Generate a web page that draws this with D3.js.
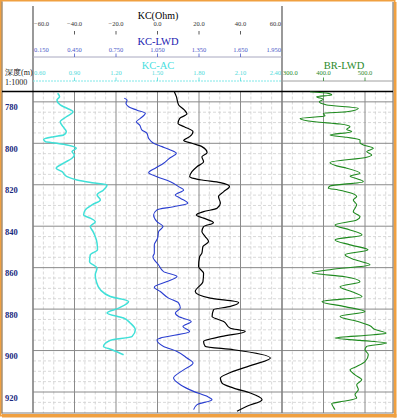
<!DOCTYPE html>
<html>
<head>
<meta charset="utf-8">
<script src="https://cdn.jsdelivr.net/npm/d3@7"></script>
<style>
  html, body { margin: 0; padding: 0; background: #fff; }
  svg { display: block; }
  text { font-family: "Liberation Serif", "DejaVu Serif", serif; }
</style>
</head>
<body>
<svg id="chart" width="399" height="420"></svg>
<script>
// scale labels of the header rows
var kcTicks = [-60, -40, -20, 0, 20, 40, 60];
var lwdTicks = [0.150, 0.450, 0.750, 1.050, 1.350, 1.650, 1.950];
var acTicks = [0.60, 0.90, 1.20, 1.50, 1.80, 2.10, 2.40];
var brTicks = [300, 400, 500];
var depthTicks = [780, 800, 820, 840, 860, 880, 900, 920];

// KC (black)
var kcDepth = [775.1, 777.5, 781.5, 783.9, 785.8, 788.0, 790.4, 792.0, 794.4, 796.8, 798.7, 800.0,
    801.6, 804.5, 806.5, 808.9, 811.3, 813.7, 816.1, 816.9, 817.7, 819.0, 820.9, 823.3, 825.7,
    828.9, 831.3, 833.0, 834.6, 836.1, 838.3, 840.2, 842.6, 845.0, 847.4, 849.8, 853.0, 854.7,
    859.5, 862.7, 866.7, 871.5, 874.7, 876.8, 878.7, 880.3, 883.6, 886.0, 889.2, 890.8, 893.2,
    895.6, 898.0, 899.6, 903.6, 906.8, 910.6, 913.3, 915.7, 918.1, 920.5, 923.7, 926.9, 929.3];
var kcValue = [8.1, 9.1, 10.2, 12.9, 14.2, 10.7, 9.9, 12.9, 17.1, 15.5, 12.6, 16.6,
    21.4, 23.9, 21.4, 22.2, 19.0, 16.6, 15.5, 17.4, 21.4, 30.3, 34.7, 31.9, 29.4,
    30.3, 28.7, 22.2, 18.7, 22.2, 27.0, 22.2, 21.4, 23.0, 24.6, 21.9, 21.4, 20.3,
    19.8, 22.2, 21.9, 18.2, 25.4, 39.1, 35.1, 27.0, 26.3, 31.9, 35.1, 42.3, 31.1,
    22.2, 23.0, 36.7, 54.4, 46.3, 35.1, 30.3, 31.1, 36.7, 44.7, 50.4, 43.1, 38.3];

// KC-LWD (blue)
var lwdDepth = [778.3, 779.1, 780.7, 782.4, 784.0, 785.5, 788.0, 789.6, 791.2, 793.6, 795.2, 797.6,
    800.0, 801.6, 803.2, 804.8, 807.2, 809.6, 812.0, 814.2, 816.1, 818.5, 820.9, 822.5, 824.9,
    826.5, 828.9, 830.6, 832.1, 834.6, 837.8, 840.2, 842.6, 845.8, 849.0, 853.0, 854.7, 858.7,
    861.9, 864.3, 866.7, 869.4, 871.5, 874.7, 877.1, 879.5, 881.9, 883.6, 886.0, 888.4, 890.8,
    894.0, 894.8, 898.0, 900.4, 903.6, 906.0, 909.3, 913.3, 916.5, 919.7, 922.1, 923.7, 926.1, 928.5];
var lwdValue = [0.810, 0.830, 0.822, 0.841, 0.902, 0.962, 0.926, 0.897, 0.921, 0.938, 0.974, 0.986,
    1.022, 1.083, 1.143, 1.186, 1.137, 1.094, 1.034, 0.986, 1.046, 1.143, 1.203, 1.239, 1.179,
    1.215, 1.268, 1.166, 1.046, 1.022, 1.046, 1.090, 1.058, 1.051, 1.027, 1.027, 1.017, 1.058,
    1.094, 1.191, 1.119, 1.027, 1.070, 1.130, 1.203, 1.215, 1.179, 1.203, 1.294, 1.234, 1.282,
    1.070, 1.046, 1.094, 1.191, 1.263, 1.307, 1.239, 1.166, 1.215, 1.311, 1.408, 1.444, 1.336, 1.311];

// KC-AC (cyan)
var acDepth = [775.9, 777.5, 779.1, 781.5, 783.1, 784.8, 787.2, 789.6, 792.0, 794.4, 796.0, 796.8,
    798.1, 799.2, 800.0, 800.8, 802.4, 804.0, 805.6, 807.2, 809.6, 812.0, 813.7, 816.1, 817.7,
    819.0, 820.1, 822.5, 824.9, 827.3, 829.7, 832.1, 834.6, 836.1, 837.8, 840.2, 842.6, 845.0,
    848.2, 851.4, 853.8, 857.1, 860.2, 863.5, 866.7, 870.7, 873.9, 876.3, 879.5, 881.9, 884.3,
    886.7, 890.0, 893.2, 895.1, 898.0, 899.6, 902.0];
var acValue = [0.778, 0.792, 0.773, 0.797, 0.846, 0.889, 0.841, 0.797, 0.817, 0.841, 0.821, 0.749,
    0.677, 0.689, 0.773, 0.846, 0.913, 0.882, 0.899, 0.882, 0.821, 0.768, 0.810, 0.846, 0.918,
    1.027, 1.135, 1.110, 1.063, 1.087, 1.027, 0.978, 0.966, 1.014, 1.050, 1.014, 1.034, 1.050,
    1.063, 1.066, 1.014, 1.009, 1.063, 1.050, 1.058, 1.087, 1.159, 1.291, 1.219, 1.135, 1.255,
    1.303, 1.340, 1.316, 1.159, 1.110, 1.171, 1.255];

// BR-LWD (green)
var brDepth = [775.1, 775.9, 776.7, 777.5, 778.8, 780.0, 781.5, 783.1, 784.8, 785.5, 786.8, 788.0,
    789.6, 790.7, 792.0, 793.3, 794.4, 796.0, 797.1, 798.4, 799.7, 800.8, 802.4, 804.0, 805.6,
    806.7, 809.3, 810.9, 812.0, 814.5, 815.8, 817.3, 818.5, 820.6, 821.7, 822.5, 824.1, 825.7,
    827.3, 829.7, 831.3, 833.0, 835.4, 837.0, 839.4, 841.8, 844.2, 846.6, 849.0, 851.4, 853.8,
    856.2, 858.6, 861.0, 862.5, 864.4, 866.8, 869.2, 871.6, 874.0, 876.4, 878.8, 881.2, 883.6,
    886.0, 888.0, 889.9, 891.6, 892.4, 894.0, 895.1, 896.4, 898.0, 899.6, 902.0, 905.3, 907.7,
    909.3, 911.7, 914.1, 916.5, 918.9, 921.3, 922.9, 924.5, 925.6, 927.2, 928.5];
var brValue = [367.5, 411.6, 419.8, 383.6, 399.5, 389.9, 407.7, 483.9, 455.9, 399.5, 403.6, 343.4,
    379.5, 439.8, 463.9, 455.9, 468.0, 415.7, 455.9, 488.0, 488.0, 495.9, 520.0, 504.1, 516.2,
    504.1, 415.7, 431.8, 455.9, 488.0, 463.9, 483.9, 495.9, 415.7, 411.6, 435.7, 468.0, 480.0,
    471.8, 480.0, 475.9, 471.8, 488.0, 480.0, 427.7, 463.9, 492.8, 427.7, 463.9, 507.3, 451.8,
    475.9, 512.0, 415.7, 372.3, 451.8, 488.0, 439.8, 468.7, 492.8, 396.4, 451.8, 500.0, 439.8,
    483.2, 512.0, 524.1, 550.6, 520.0, 427.7, 488.0, 552.3, 504.1, 500.0, 508.0, 500.0, 480.0,
    463.9, 475.9, 492.1, 480.0, 483.9, 475.9, 480.0, 447.7, 419.8, 423.6, 427.7];

var svg = d3.select("#chart");

var trackL = 33, trackM = 282, trackR = 393, plotTop = 91.5, plotBottom = 413;

var y = d3.scaleLinear().domain([800, 920]).range([143.3, 392]);
var xKC = d3.scaleLinear().domain([-60, 60]).range([trackL, trackM]);
var xLWD = d3.scaleLinear().domain([0.15, 1.95]).range([trackL, trackM]);
var xAC = d3.scaleLinear().domain([0.6, 2.4]).range([trackL, trackM]);
var xBR = d3.scaleLinear().domain([300, 500]).range([trackM, 365]);

// frame
svg.append("rect").attr("x", 0).attr("y", 0).attr("width", 399).attr("height", 420).attr("fill", "#fff");
svg.append("rect").attr("x", 0.75).attr("y", 0.75).attr("width", 394).attr("height", 415)
    .attr("fill", "none").attr("stroke", "#f0a040").attr("stroke-width", 1.5);
svg.append("rect").attr("x", 393.5).attr("y", 2).attr("width", 3).attr("height", 415.5).attr("fill", "#f0a040");
svg.append("rect").attr("x", 2).attr("y", 414).attr("width", 394.5).attr("height", 3.5).attr("fill", "#f0a040");
svg.append("line").attr("x1", 2).attr("x2", 2).attr("y1", 1.5).attr("y2", 413.5)
    .attr("stroke", "#7a5a30").attr("stroke-width", 1);

var grid = svg.append("g");

// minor grid
var minorX = d3.range(-60, 61, 5).filter(function(v) { return v % 20 !== 0; }).map(xKC)
    .concat(d3.range(300, 575, 25).filter(function(v) { return v % 100 !== 0; }).map(xBR))
    .filter(function(x) { return x < trackR - 1; });
grid.selectAll("line.minx").data(minorX).enter().append("line")
    .attr("x1", function(d) { return d; }).attr("x2", function(d) { return d; })
    .attr("y1", plotTop).attr("y2", plotBottom)
    .attr("stroke", "#cfcfcf").attr("stroke-width", 0.8).attr("stroke-dasharray", "3,2");

var minorY = d3.range(775, 931, 5).filter(function(v) { return v % 20 !== 0; })
    .map(y).filter(function(v) { return v > plotTop + 1 && v < plotBottom - 1; });
grid.selectAll("line.miny").data(minorY).enter().append("line")
    .attr("x1", trackL).attr("x2", trackR)
    .attr("y1", function(d) { return d; }).attr("y2", function(d) { return d; })
    .attr("stroke", "#cfcfcf").attr("stroke-width", 0.8).attr("stroke-dasharray", "3,2");

// major grid
grid.selectAll("line.majx").data(kcTicks.slice(1, -1).map(xKC).concat([xBR(400), xBR(500)]))
    .enter().append("line")
    .attr("x1", function(d) { return d; }).attr("x2", function(d) { return d; })
    .attr("y1", plotTop).attr("y2", plotBottom)
    .attr("stroke", "#8a8a8a").attr("stroke-width", 1);

grid.selectAll("line.majy").data(depthTicks.map(y)).enter().append("line")
    .attr("x1", trackL).attr("x2", trackR)
    .attr("y1", function(d) { return d; }).attr("y2", function(d) { return d; })
    .attr("stroke", "#8a8a8a").attr("stroke-width", 1);

// track borders
[trackL, trackM].forEach(function(x) {
    svg.append("line").attr("x1", x).attr("x2", x).attr("y1", 6).attr("y2", plotBottom)
        .attr("stroke", "#808080").attr("stroke-width", 1.6);
});
svg.append("line").attr("x1", trackR).attr("x2", trackR).attr("y1", 2).attr("y2", plotBottom)
    .attr("stroke", "#808080").attr("stroke-width", 1.2);
svg.append("line").attr("x1", 2).attr("x2", trackR).attr("y1", plotBottom).attr("y2", plotBottom)
    .attr("stroke", "#808080").attr("stroke-width", 1.2);
svg.append("line").attr("x1", trackL).attr("x2", trackM).attr("y1", 57).attr("y2", 57)
    .attr("stroke", "#a8a8c0").attr("stroke-width", 1);
svg.append("line").attr("x1", trackL).attr("x2", trackM).attr("y1", 81).attr("y2", 81)
    .attr("stroke", "#80e8e8").attr("stroke-width", 1).attr("stroke-dasharray", "2,1");
svg.append("line").attr("x1", trackM).attr("x2", trackR).attr("y1", 81).attr("y2", 81)
    .attr("stroke", "#a0a0a0").attr("stroke-width", 1);
svg.append("line").attr("x1", 2).attr("x2", trackR).attr("y1", plotTop).attr("y2", plotTop)
    .attr("stroke", "#000").attr("stroke-width", 1.5);

// header titles
function title(txt, x, yy, color, size) {
    svg.append("text").attr("x", x).attr("y", yy).attr("text-anchor", "middle")
        .attr("font-size", size).attr("fill", color).text(txt);
}
title("KC(Ohm)", 158, 18.5, "#000", 10);
title("KC-LWD", 158, 44.5, "#1a1ab0", 10.5);
title("KC-AC", 158, 68.5, "#48e0e0", 10.5);
title("BR-LWD", 344, 68.5, "#2a8a2a", 10.5);

// scale rows
function scaleRow(ticks, scale, fmt, yy, tickY, color) {
    var n = ticks.length;
    var g = svg.append("g");
    g.selectAll("text").data(ticks).enter().append("text")
        .attr("x", function(d, i) { return scale(d) + (i === 0 ? 1 : (i === n - 1 ? -1 : 0)); })
        .attr("y", yy)
        .attr("text-anchor", function(d, i) { return i === 0 ? "start" : (i === n - 1 ? "end" : "middle"); })
        .attr("font-size", 6.5).attr("fill", color)
        .text(function(d) { return d3.format(fmt)(d); });
    g.selectAll("line").data(ticks.slice(1, -1)).enter().append("line")
        .attr("x1", scale).attr("x2", scale).attr("y1", tickY).attr("y2", tickY + 3.5)
        .attr("stroke", color).attr("stroke-width", 0.8);
}
scaleRow(kcTicks, xKC, ".1f", 26, 31, "#333");
scaleRow(lwdTicks, xLWD, ".3f", 52, 53.5, "#4a58c8");
scaleRow(acTicks, xAC, ".2f", 75, 77.5, "#50dada");
// BR-LWD labels: first starts at the divider, rest centred
var brG = svg.append("g");
brG.selectAll("text").data(brTicks).enter().append("text")
    .attr("x", function(d, i) { return xBR(d) + (i === 0 ? 1 : 0); })
    .attr("y", 75)
    .attr("text-anchor", function(d, i) { return i === 0 ? "start" : "middle"; })
    .attr("font-size", 6.5).attr("fill", "#2a8a2a")
    .text(function(d) { return d3.format(".1f")(d); });
brG.selectAll("line").data(brTicks.slice(1)).enter().append("line")
    .attr("x1", xBR).attr("x2", xBR).attr("y1", 77.5).attr("y2", 81)
    .attr("stroke", "#2a8a2a").attr("stroke-width", 0.8);

// depth column
svg.append("text").attr("x", 5).attr("y", 75).attr("font-size", 8).attr("fill", "#222").text("深度(m)");
svg.append("text").attr("x", 5).attr("y", 84.5).attr("font-size", 8).attr("fill", "#222").text("1:1000");
svg.append("g").selectAll("text").data(depthTicks).enter().append("text")
    .attr("x", 5).attr("y", function(d) { return y(d) + 8.5; })
    .attr("font-size", 8.5).attr("font-weight", "bold").attr("fill", "#1a2a80")
    .text(function(d) { return d; });

// curves
svg.append("clipPath").attr("id", "clip").append("rect")
    .attr("x", trackL).attr("y", plotTop).attr("width", trackR - trackL).attr("height", plotBottom - plotTop);

function curve(depths, values, xs, color, width) {
    var pts = depths.map(function(d, i) { return [xs(values[i]), y(d)]; });
    var line = d3.line().curve(d3.curveMonotoneY);
    svg.append("path").attr("d", line(pts)).attr("clip-path", "url(#clip)")
        .attr("fill", "none").attr("stroke", color).attr("stroke-width", width)
        .attr("stroke-linejoin", "round");
}
curve(acDepth, acValue, xAC, "#40e0d8", 1.5);
curve(lwdDepth, lwdValue, xLWD, "#2a3ed0", 1.1);
curve(kcDepth, kcValue, xKC, "#000", 1.2);
curve(brDepth, brValue, xBR, "#1f8a1f", 1.1);
</script>
</body>
</html>
